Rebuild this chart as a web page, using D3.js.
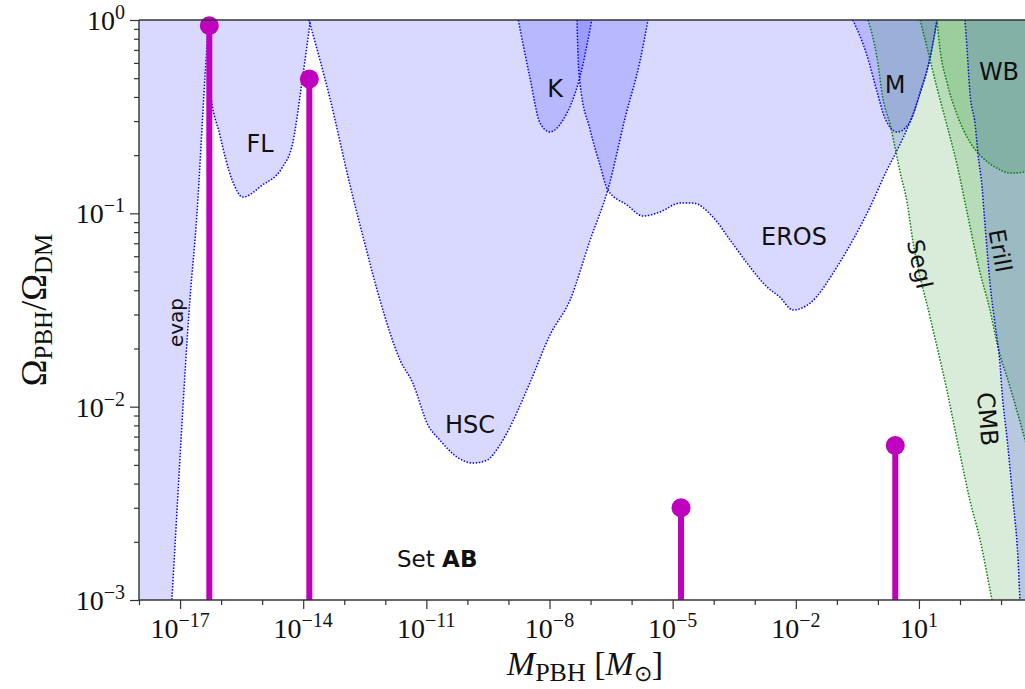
<!DOCTYPE html>
<html><head><meta charset="utf-8">
<script src="https://cdn.jsdelivr.net/npm/d3@7"></script>
<style>
html,body{margin:0;padding:0;background:#fff;overflow:hidden;}
svg{display:block;}
</style></head><body>
<svg id="chart" width="1025" height="689"></svg>
<script>
// ---------- DATA (log10 M_PBH [Msun], log10 Omega_PBH/Omega_DM) ----------
const evapCurve = [[-18.1,-6.2],[-17.20,-3.0],[-16.76,-1.449],[-16.59,-1.009],[-16.39,-0.285],[-16.30,0]];
const flCurve   = [[-16.34,0],[-16.27,-0.352],[-16.03,-0.595],[-15.73,-0.828],[-15.47,-0.916],[-15.00,-0.854],[-14.52,-0.766],[-14.25,-0.631],[-14.03,-0.321],[-13.83,-0.01]];
const hscCurve  = [[-13.86,0],[-13.35,-0.404],[-12.86,-0.854],[-12.49,-1.164],[-12.13,-1.449],[-11.64,-1.759],[-11.33,-1.878],[-10.96,-2.095],[-10.67,-2.173],[-10.25,-2.261],[-9.86,-2.292],[-9.52,-2.276],[-9.21,-2.199],[-9.04,-2.137],[-8.48,-1.878],[-7.99,-1.630],[-7.50,-1.449],[-7.01,-1.138],[-6.58,-0.879],[-6.14,-0.491],[-5.80,-0.217],[-5.60,0]];
const kCurve    = [[-8.76,0],[-8.65,-0.119],[-8.48,-0.295],[-8.23,-0.533],[-7.99,-0.579],[-7.67,-0.517],[-7.26,-0.295],[-6.97,0]];
const erosCurve = [[-7.33,0],[-7.31,-0.155],[-7.26,-0.321],[-7.01,-0.569],[-6.77,-0.750],[-6.58,-0.879],[-6.11,-0.957],[-5.72,-1.014],[-5.31,-0.993],[-4.82,-0.947],[-4.50,-0.947],[-4.02,-1.019],[-3.60,-1.138],[-3.19,-1.257],[-2.70,-1.381],[-2.39,-1.433],[-2.07,-1.500],[-1.65,-1.464],[-1.00,-1.278],[-0.61,-1.138],[-0.19,-0.967],[0.22,-0.776],[0.47,-0.673],[0.78,-0.528],[1.07,-0.352],[1.27,-0.197],[1.44,0]];
const mCurve    = [[-0.61,0],[-0.27,-0.181],[-0.02,-0.372],[0.17,-0.507],[0.47,-0.579],[0.78,-0.528],[1.03,-0.372],[1.27,-0.197],[1.44,0]];
const seglCurve = [[-0.24,0],[-0.02,-0.197],[0.12,-0.404],[0.30,-0.543],[0.42,-0.662],[0.54,-0.786],[0.71,-0.942],[0.86,-1.154],[1.27,-1.536],[1.68,-1.914],[1.93,-2.173],[2.24,-2.483],[2.49,-2.690],[2.78,-3.0],[3.6,-3.85],[4.3,-4.6]];
const cmbCurve  = [[1.03,0],[1.20,-0.145],[1.44,-0.352],[1.68,-0.543],[1.93,-0.750],[2.17,-0.993],[2.49,-1.309],[2.73,-1.500],[2.90,-1.671],[3.22,-1.899],[3.54,-2.137],[4.3,-2.75]];
const wbCurve   = [[1.44,0],[1.51,-0.145],[1.68,-0.321],[1.93,-0.491],[2.24,-0.631],[2.56,-0.714],[2.90,-0.766],[3.22,-0.792],[3.58,-0.786],[3.9,-0.70],[4.3,-0.5]];
const erillCurve= [[2.12,0],[2.17,-0.145],[2.24,-0.372],[2.37,-0.543],[2.44,-0.698],[2.54,-0.869],[2.59,-1.009],[2.66,-1.190],[2.73,-1.361],[2.85,-1.568],[2.98,-1.795],[3.02,-1.914],[3.15,-2.173],[3.29,-2.483],[3.41,-2.778],[3.46,-3.0],[3.7,-3.8],[4.3,-5.0]];

const stemMass  = [5.16e-17, 1.41e-14, 1.60e-5, 2.65];
const stemOmega = [0.935, 0.495, 0.0030, 0.0063];

const xTickExps = [-17,-14,-11,-8,-5,-2,1];
const yTickExps = [0,-1,-2,-3];

// ---------- SETUP ----------
const svg = d3.select("#chart");
const L = 139, T = 20, B = 600, R = 139 + 22*41.05;
const x = d3.scaleLog().domain([1e-18,1e4]).range([L,R]);
const y = d3.scaleLog().domain([1e-3,1]).range([B,T]);

svg.append("defs").append("clipPath").attr("id","plotclip")
  .append("rect").attr("x",L).attr("y",T).attr("width",R-L).attr("height",B-T);

const px = d => x(Math.pow(10,d[0]));
const py = d => y(Math.pow(10,d[1]));
const area = d3.area().x(px).y0(y(1)).y1(py).curve(d3.curveMonotoneX);
const line = d3.line().x(px).y(py).curve(d3.curveMonotoneX);

const BLUE = "#0000ff", GREEN = "#008000";
const regions = [
  {pts: evapCurve, c: BLUE},
  {pts: flCurve, c: BLUE},
  {pts: hscCurve, c: BLUE},
  {pts: kCurve, c: BLUE},
  {pts: erosCurve, c: BLUE},
  {pts: mCurve, c: BLUE},
  {pts: seglCurve, c: GREEN},
  {pts: cmbCurve, c: GREEN},
  {pts: erillCurve, c: BLUE},
  {pts: wbCurve, c: GREEN}
];

const gp = svg.append("g").attr("clip-path","url(#plotclip)");
regions.forEach(r => {
  gp.append("path").attr("d", area(r.pts)).attr("fill", r.c).attr("fill-opacity", 0.15).attr("stroke","none");
  gp.append("path").attr("d", line(r.pts)).attr("fill","none").attr("stroke", r.c)
    .attr("stroke-width",1.5).attr("stroke-dasharray","1.5,1.6");
});

// ---------- LABELS in plot ----------
const sans = "DejaVu Sans, Verdana, sans-serif";
const plainLabels = [
  {t:"FL", x:260, y:151.7},
  {t:"K", x:555, y:96.5},
  {t:"HSC", x:470, y:433},
  {t:"EROS", x:794, y:245},
  {t:"M", x:895, y:93},
  {t:"WB", x:999, y:80}
];
plainLabels.forEach(l => svg.append("text").attr("x",l.x).attr("y",l.y).attr("text-anchor","middle")
  .attr("font-family",sans).attr("font-size",24).attr("fill","#111").text(l.t));

const rotLabels = [
  {t:"evap", x:175.5, y:322.5, a:-90, s:20},
  {t:"Segl", x:920, y:264, a:78, s:23},
  {t:"Erill", x:1000.5, y:250.5, a:80, s:23},
  {t:"CMB", x:988, y:419, a:85, s:24}
];
rotLabels.forEach(l => svg.append("text").attr("transform",`translate(${l.x},${l.y}) rotate(${l.a})`)
  .attr("text-anchor","middle").attr("dy","0.36em")
  .attr("font-family",sans).attr("font-size",l.s).attr("fill","#111").text(l.t));

const setT = svg.append("text").attr("x",397).attr("y",567).attr("font-family",sans).attr("font-size",23).attr("fill","#111");
setT.append("tspan").text("Set ");
setT.append("tspan").attr("font-weight","bold").text("AB");

// ---------- STEMS ----------
const MAG = "#bf00bf";
const stems = svg.append("g");
stemMass.forEach((m,i) => {
  stems.append("line").attr("x1",x(m)).attr("x2",x(m)).attr("y1",y(1e-3)).attr("y2",y(stemOmega[i]))
    .attr("stroke",MAG).attr("stroke-width",6);
  stems.append("circle").attr("cx",x(m)).attr("cy",y(stemOmega[i])).attr("r",9.5).attr("fill",MAG);
});

// ---------- AXES ----------
const AX = "#333";
const xMajor = xTickExps.map(e => Math.pow(10,e));
const xMinor = [];
for (let e=-18; e<=4; e++) if (!xTickExps.includes(e)) xMinor.push(Math.pow(10,e));
const yMajor = yTickExps.map(e => Math.pow(10,e));
const yMinor = [];
for (let e=-3; e<0; e++) for (let m=2; m<10; m++) yMinor.push(m*Math.pow(10,e));

function styleAxis(g){ g.select(".domain").remove(); g.selectAll("line").attr("stroke",AX).attr("stroke-width",1.2); }
svg.append("g").attr("transform",`translate(0,${B})`).call(d3.axisBottom(x).tickValues(xMajor).tickSize(9).tickFormat("")).call(styleAxis);
svg.append("g").attr("transform",`translate(0,${B})`).call(d3.axisBottom(x).tickValues(xMinor).tickSize(5).tickFormat("")).call(styleAxis);
svg.append("g").attr("transform",`translate(${L},0)`).call(d3.axisLeft(y).tickValues(yMajor).tickSize(9).tickFormat("")).call(styleAxis);
svg.append("g").attr("transform",`translate(${L},0)`).call(d3.axisLeft(y).tickValues(yMinor).tickSize(5).tickFormat("")).call(styleAxis);

// spines
svg.append("line").attr("x1",L).attr("x2",L).attr("y1",T).attr("y2",B).attr("stroke",AX).attr("stroke-width",1.4);
svg.append("line").attr("x1",L).attr("x2",R).attr("y1",B).attr("y2",B).attr("stroke",AX).attr("stroke-width",1.4);
svg.append("line").attr("x1",L).attr("x2",R).attr("y1",T).attr("y2",T).attr("stroke",AX).attr("stroke-width",1.4);
svg.append("line").attr("x1",R).attr("x2",R).attr("y1",T).attr("y2",B).attr("stroke",AX).attr("stroke-width",1.4);

const serif = "Liberation Serif, Times New Roman, serif";
function sup(e){ return (e<0 ? "\u2212" + Math.abs(e) : String(e)); }
xTickExps.forEach(e => {
  const t = svg.append("text").attr("x",x(Math.pow(10,e))).attr("y",B+38).attr("text-anchor","middle")
    .attr("font-family",serif).attr("font-size",28).attr("fill","#111");
  t.append("tspan").text("10");
  t.append("tspan").attr("font-size",20).attr("dy",-11).text(sup(e));
});
yTickExps.forEach(e => {
  const t = svg.append("text").attr("x",125).attr("y",y(Math.pow(10,e))+10).attr("text-anchor","end")
    .attr("font-family",serif).attr("font-size",28).attr("fill","#111");
  t.append("tspan").text("10");
  t.append("tspan").attr("font-size",20).attr("dy",-11).text(sup(e));
});

// axis titles
const xt = svg.append("text").attr("x",585).attr("y",675).attr("text-anchor","middle")
  .attr("font-family",serif).attr("font-size",34).attr("fill","#111");
xt.append("tspan").attr("font-style","italic").text("M");
xt.append("tspan").attr("font-size",26).attr("dy",6).text("PBH");
xt.append("tspan").attr("dy",-6).text(" [");
xt.append("tspan").attr("font-style","italic").text("M");
xt.append("tspan").attr("font-size",22).attr("dy",6).text("\u2299");
xt.append("tspan").attr("dy",-6).text("]");

const yt = svg.append("text").attr("transform","translate(46,310) rotate(-90)").attr("text-anchor","middle")
  .attr("font-family",serif).attr("font-size",36).attr("fill","#111");
yt.append("tspan").text("\u03A9");
yt.append("tspan").attr("font-size",25).attr("dy",6).text("PBH");
yt.append("tspan").attr("dy",-6).text("/\u03A9");
yt.append("tspan").attr("font-size",25).attr("dy",6).text("DM");
</script>
</body></html>
